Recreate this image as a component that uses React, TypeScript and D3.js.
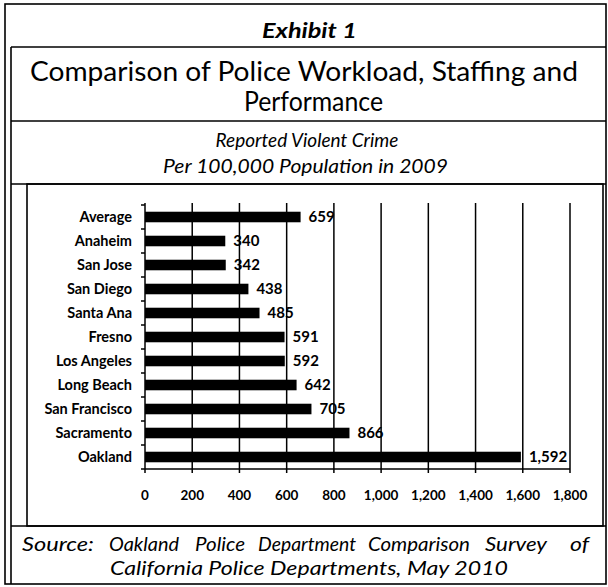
import * as d3 from "d3";
import React from "react";

const cities = [
  "Average",
  "Anaheim",
  "San Jose",
  "San Diego",
  "Santa Ana",
  "Fresno",
  "Los Angeles",
  "Long Beach",
  "San Francisco",
  "Sacramento",
  "Oakland",
];
const crimeRate = [659, 340, 342, 438, 485, 591, 592, 642, 705, 866, 1592];
const xTicks = [0, 200, 400, 600, 800, 1000, 1200, 1400, 1600, 1800];
const sourceWords = ["Source:", "Oakland", "Police", "Department", "Comparison", "Survey", "of"];

const W = 608;
const H = 587;
const FONT = "Lato, Calibri, 'Liberation Sans', sans-serif";

// left edge / width of each justified source word
const sourceLayout = [
  [22, 72],
  [109, 70],
  [195, 50],
  [258, 98],
  [368, 102],
  [485, 62],
  [570, 19],
];

const App: React.FC = () => {
  const x = d3.scaleLinear().domain([0, 1800]).range([145, 570]);
  const y = d3
    .scaleBand<string>()
    .domain(cities)
    .range([205, 469])
    .paddingInner(0.56)
    .paddingOuter(0.28);
  const fmt = d3.format(",");
  const axisTop = 203;
  const axisBottom = 469;
  const step = y.step();
  const boundaries = d3.range(cities.length + 1).map((i) => 205 + i * step);

  return (
    <svg
      width={W}
      height={H}
      style={{ position: "absolute", left: 0, top: 0, background: "#fff" }}
      fontFamily={FONT}
    >
      <rect x={0} y={0} width={W} height={H} fill="#fff" />

      {/* table frame */}
      <g stroke="#000" fill="none" strokeWidth={1.6}>
        <rect x={5} y={4} width={601} height={580} />
        <line x1={11} y1={47} x2={11} y2={584} />
        <line x1={11} y1={47} x2={606} y2={47} />
        <line x1={11} y1={121} x2={606} y2={121} />
        <line x1={11} y1={184} x2={606} y2={184} />
        <rect x={27} y={184} width={576} height={342} />
        <line x1={11} y1={526} x2={606} y2={526} />
      </g>

      {/* headings */}
      <text x={262} y={38} fontSize={20} fontWeight="bold" fontStyle="italic" textLength={95} lengthAdjust="spacingAndGlyphs">
        Exhibit 1
      </text>
      <text x={30} y={81} fontSize={26} textLength={548} lengthAdjust="spacingAndGlyphs">
        Comparison of Police Workload, Staffing and
      </text>
      <text x={244} y={111} fontSize={26} textLength={139} lengthAdjust="spacingAndGlyphs">
        Performance
      </text>
      <text x={307} y={147} textAnchor="middle" fontSize={19} fontStyle="italic">
        Reported Violent Crime
      </text>
      <text x={163} y={173} fontSize={19} fontStyle="italic" textLength={285} lengthAdjust="spacingAndGlyphs">
        Per 100,000 Population in 2009
      </text>

      {/* gridlines */}
      <g stroke="#000" strokeWidth={1.5}>
        {xTicks.slice(1).map((t) => (
          <line key={t} x1={x(t)} x2={x(t)} y1={axisTop} y2={axisBottom} />
        ))}
      </g>

      {/* bars */}
      <g fill="#000">
        {cities.map((c, i) => (
          <rect key={c} x={x(0)} y={y(c)} width={x(crimeRate[i]) - x(0)} height={y.bandwidth()} />
        ))}
      </g>

      {/* axes */}
      <g stroke="#000" strokeWidth={1.5}>
        <line x1={x(0)} x2={x(0)} y1={axisTop} y2={axisBottom} />
        <line x1={x(0)} x2={x(1800)} y1={axisBottom} y2={axisBottom} />
        {boundaries.map((b, i) => (
          <line key={i} x1={x(0) - 4} x2={x(0)} y1={b} y2={b} />
        ))}
        {xTicks.map((t) => (
          <line key={t} x1={x(t)} x2={x(t)} y1={axisBottom} y2={axisBottom + 4} />
        ))}
      </g>

      {/* category labels */}
      <g fontSize={14.5} fontWeight="bold" textAnchor="end">
        {cities.map((c) => (
          <text key={c} x={132} y={y(c)! + y.bandwidth() / 2} dy="0.35em">
            {c}
          </text>
        ))}
      </g>

      {/* value labels */}
      <g fontSize={15} fontWeight="bold">
        {cities.map((c, i) => (
          <text key={c} x={x(crimeRate[i]) + 8} y={y(c)! + y.bandwidth() / 2} dy="0.35em">
            {fmt(crimeRate[i])}
          </text>
        ))}
      </g>

      {/* x tick labels */}
      <g fontSize={13.5} fontWeight="bold" textAnchor="middle">
        {xTicks.map((t) => (
          <text key={t} x={x(t)} y={495} dy="0.35em">
            {fmt(t)}
          </text>
        ))}
      </g>

      {/* source */}
      <g fontSize={19} fontStyle="italic">
        {sourceWords.map((w, i) => (
          <text
            key={w}
            x={sourceLayout[i][0]}
            y={551}
            textLength={sourceLayout[i][1]}
            lengthAdjust="spacingAndGlyphs"
          >
            {w}
          </text>
        ))}
        <text x={110} y={575} textLength={398} lengthAdjust="spacingAndGlyphs">
          California Police Departments, May 2010
        </text>
      </g>
    </svg>
  );
};

export default App;
